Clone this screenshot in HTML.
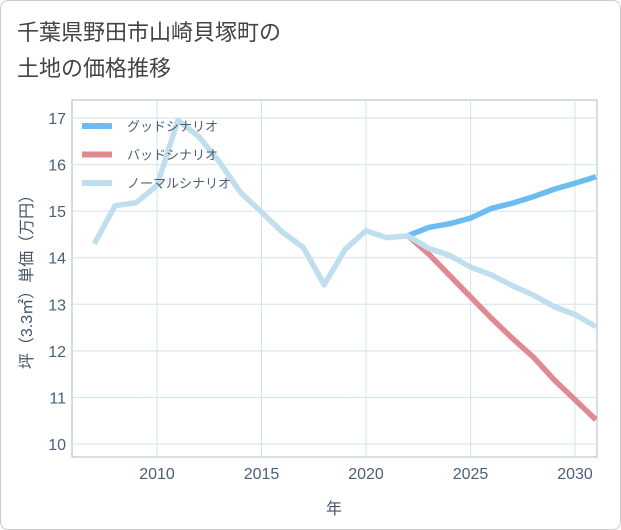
<!DOCTYPE html>
<html><head><meta charset="utf-8"><style>
body{margin:0;background:#fff;font-family:"Liberation Sans","Noto Sans CJK JP",sans-serif}
#wrap{position:absolute;left:0;top:0;width:619px;height:528px;border:1px solid #ccc;border-radius:8px;background:#fff}
</style></head><body>
<div id="wrap">
<svg id="svg" width="621" height="530" style="position:absolute;left:-1px;top:-1px">
<text x="17" y="40" font-size="22" fill="#444" font-family="Liberation Sans,Noto Sans CJK JP,sans-serif">千葉県野田市山崎貝塚町の</text>
<text x="17" y="76" font-size="22" fill="#444" font-family="Liberation Sans,Noto Sans CJK JP,sans-serif">土地の価格推移</text>
<g id="grid"></g><g id="lines"></g><g id="axes"></g><g id="legend"></g>
<text x="334" y="514" font-size="16" fill="#445566" text-anchor="middle" font-family="Liberation Sans,Noto Sans CJK JP,sans-serif">年</text>
<text transform="translate(32,278) rotate(-90)" font-size="16" fill="#445566" text-anchor="middle" font-family="Liberation Sans,Noto Sans CJK JP,sans-serif">坪（3.3㎡）単価（万円）</text>
</svg></div>
<script>
const years=[2007,2008,2009,2010,2011,2012,2013,2014,2015,2016,2017,2018,2019,2020,2021,2022,2023,2024,2025,2026,2027,2028,2029,2030,2031];
const normal=[14.3,15.12,15.18,15.55,16.95,16.6,16.05,15.4,14.98,14.55,14.22,13.42,14.18,14.58,14.43,14.47,14.2,14.05,13.8,13.63,13.4,13.2,12.95,12.78,12.52];
const goodYears=[2022,2023,2024,2025,2026,2027,2028,2029,2030,2031];
const good=[14.47,14.65,14.73,14.85,15.06,15.17,15.31,15.47,15.6,15.74];
const bad=[14.47,14.08,13.62,13.16,12.7,12.27,11.87,11.38,10.95,10.52];
const xTicks=[2010,2015,2020,2025,2030];
const yTicks=[10,11,12,13,14,15,16,17];
const NS='http://www.w3.org/2000/svg';
const L=72,R=597,T=100,B=457;
const x=v=>157+(v-2010)*20.9;
const y=v=>444-(v-10)*46.57;
function el(t,a,p){const e=document.createElementNS(NS,t);for(const k in a)e.setAttribute(k,a[k]);document.getElementById(p).appendChild(e);return e;}
let g=el('rect',{x:L,y:T,width:R-L,height:B-T,fill:'none',stroke:'#aab8c8'},'grid');


yTicks.forEach(v=>{const l=el('line',{x1:L,x2:R,y1:y(v),y2:y(v),stroke:'#d3e2ee'},'grid');


const t=el('text',{x:L-6,y:y(v)+6,'font-size':16,fill:'#4a5f78','text-anchor':'end'},'axes');t.textContent=v;

});
xTicks.forEach(v=>{const l=el('line',{x1:x(v),x2:x(v),y1:T,y2:B,stroke:'#d3e2ee'},'grid');


const t=el('text',{x:x(v),y:B+22,'font-size':16,fill:'#4a5f78','text-anchor':'middle'},'axes');t.textContent=v;

});
function line(xs,vs,c,n){const p=el('polyline',{points:xs.map((yr,i)=>x(yr)+','+y(vs[i])).join(' '),fill:'none',stroke:c,'stroke-width':5.5,'stroke-linejoin':'round'},'lines');

}
const cp=el('clipPath',{id:'c'},'lines');el('rect',{x:L,y:T,width:R-L,height:B-T},'c');
document.getElementById('lines').setAttribute('clip-path','url(#c)');
line(goodYears,good,'#6bbcf0','good-scenario-line');
line(goodYears,bad,'#de8a90','bad-scenario-line');
line(years,normal,'#c0dfee','normal-scenario-line');
[['グッドシナリオ','#6bbcf0'],['バッドシナリオ','#de8a90'],['ノーマルシナリオ','#c0dfee']].forEach((d,i)=>{
const yy=126+i*28.5;
const r=el('rect',{x:82,y:yy-3,width:30,height:6,fill:d[1]},'legend');


const t=el('text',{x:127,y:yy+5,'font-size':13,fill:'#4a5f78'},'legend');t.textContent=d[0];

});
</script></body></html>
